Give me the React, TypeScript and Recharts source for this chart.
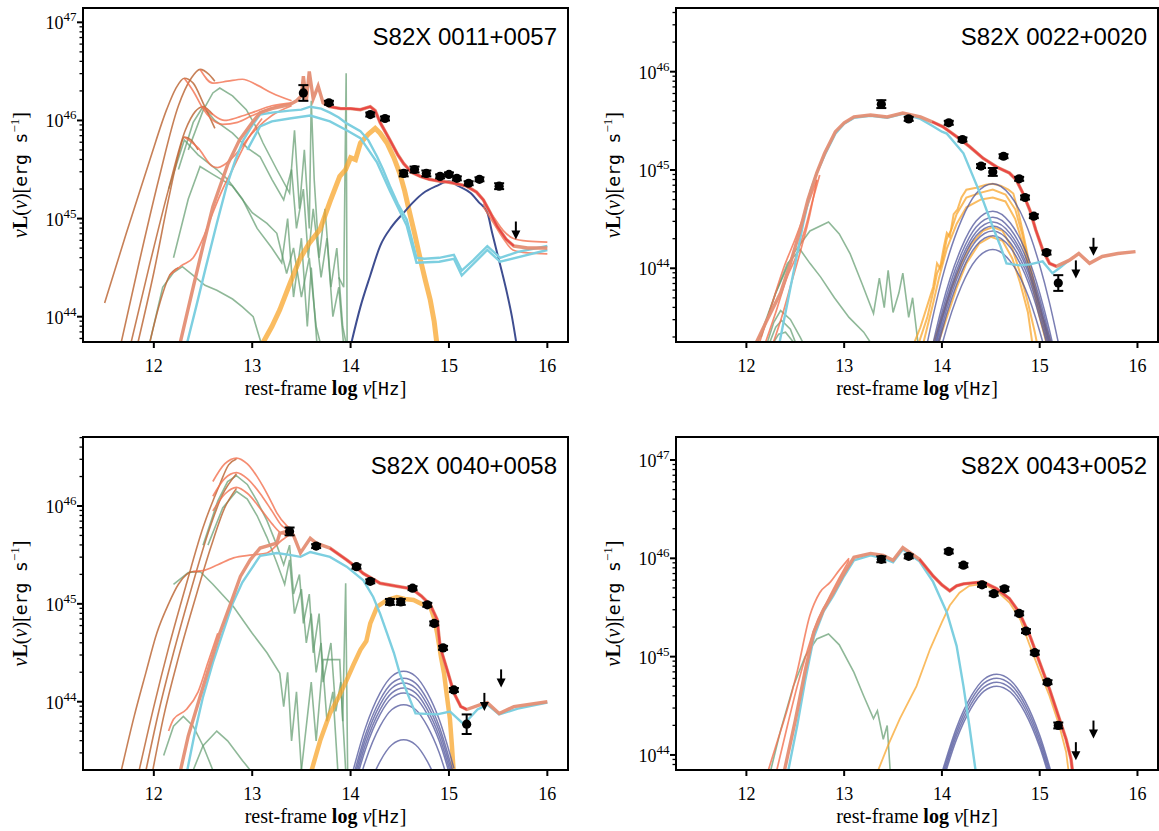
import React from "react";
import { ComposedChart, Line, Scatter, XAxis, YAxis, ErrorBar } from "recharts";

type Pt = [number, number];
type Obs = [number, number, number];

const xTicks = [12, 13, 14, 15, 16];
const xDomain: [number, number] = [11.28, 16.21];

// ---------- S82X 0011+0057 (log10 nuL) ----------
const tlColdDust: Pt[][] = [
  [[11.5, 44.14], [11.72, 44.85], [11.96, 45.6], [12.13, 46.11], [12.22, 46.32], [12.31, 46.43], [12.4, 46.38], [12.5, 46.18], [12.62, 45.92]],
  [[11.66, 43.7], [11.85, 44.55], [12.05, 45.4], [12.25, 46.15], [12.38, 46.43], [12.47, 46.52], [12.56, 46.47], [12.62, 46.4]],
  [[11.76, 43.7], [11.95, 44.5], [12.15, 45.3], [12.32, 45.9], [12.42, 46.09], [12.5, 46.14], [12.6, 46.06]],
  [[11.83, 43.7], [12.0, 44.45], [12.15, 45.2], [12.25, 45.65], [12.31, 45.83], [12.38, 45.8], [12.45, 45.7]],
  [[11.95, 43.7], [12.05, 44.1], [12.16, 44.42], [12.25, 44.5]],
];
const tlStarburst: Pt[][] = [
  [[11.95, 43.7], [12.09, 44.3], [12.2, 44.45], [12.29, 44.51], [12.4, 44.42], [12.52, 44.32], [12.64, 44.27], [12.8, 44.18], [12.9, 44.1], [13.01, 44.0], [13.1, 43.7]],
  [[12.2, 44.6], [12.35, 45.2], [12.47, 45.53], [12.6, 45.45], [12.8, 45.33], [13.0, 45.06], [13.15, 44.95], [13.25, 44.85], [13.35, 44.44], [13.42, 44.7], [13.5, 44.2], [13.58, 44.6], [13.65, 43.9], [13.7, 43.7]],
  [[12.35, 45.7], [12.5, 46.1], [12.6, 46.28], [12.67, 46.33], [12.8, 46.25], [12.94, 46.11], [13.03, 45.95], [13.11, 45.77], [13.25, 45.5], [13.38, 45.26], [13.43, 45.9], [13.48, 45.1], [13.53, 45.7], [13.58, 44.9], [13.6, 46.2], [13.63, 45.4], [13.68, 44.6], [13.74, 45.1], [13.8, 44.3], [13.86, 44.7], [13.92, 43.9], [13.96, 43.7]],
  [[12.25, 45.5], [12.4, 45.98], [12.5, 46.14], [12.62, 46.0], [12.8, 45.87], [12.95, 45.72], [13.08, 45.63], [13.2, 45.4], [13.32, 45.19], [13.4, 45.5], [13.45, 44.9], [13.52, 45.3], [13.57, 44.6], [13.62, 45.1], [13.7, 44.4], [13.76, 44.8], [13.82, 44.0], [13.88, 44.3], [13.93, 43.7]],
  [[12.15, 45.3], [12.31, 45.8], [12.45, 45.65], [12.64, 45.5], [12.75, 45.4], [12.9, 45.2], [13.05, 44.9], [13.2, 44.7], [13.3, 44.55], [13.36, 45.0], [13.42, 44.2], [13.5, 44.8], [13.56, 43.9], [13.6, 44.5], [13.66, 43.7]],
  [[13.88, 44.4], [13.93, 44.3], [13.955, 46.48], [13.965, 43.7]],
];
const tlTotals: Pt[][] = [
  [[12.47, 46.52], [12.6, 46.38], [12.75, 46.4], [12.9, 46.42], [13.05, 46.36], [13.2, 46.28], [13.4, 46.2]],
  [[12.5, 46.14], [12.6, 46.06], [12.72, 46.0], [12.85, 46.03], [13.0, 46.08], [13.2, 46.15], [13.4, 46.18]],
  [[12.31, 46.43], [12.4, 46.3], [12.5, 46.12], [12.58, 46.02], [12.7, 45.96], [12.85, 45.98], [13.0, 46.05], [13.2, 46.13], [13.4, 46.17]],
  [[12.31, 45.83], [12.45, 45.72], [12.6, 45.53], [12.65, 45.52], [12.81, 45.63], [13.0, 45.87], [13.2, 46.05], [13.4, 46.15]],
  [[12.16, 44.42], [12.28, 44.52], [12.4, 44.6], [12.5, 44.8], [12.6, 45.06], [12.7, 45.3], [12.8, 45.5], [12.95, 45.8], [13.1, 46.02]],
  [[15.35, 45.15], [15.45, 45.02], [15.55, 44.88], [15.65, 44.8], [15.8, 44.77], [16.0, 44.76]],
  [[15.35, 45.12], [15.45, 44.96], [15.55, 44.8], [15.65, 44.68], [15.8, 44.65], [16.0, 44.64]],
];
const tlBestFit: Pt[] = [
  [12.26, 43.7], [12.4, 44.3], [12.5, 44.72], [12.6, 45.12], [12.75, 45.55], [12.87, 45.8], [13.0, 45.98], [13.08, 46.08], [13.2, 46.12], [13.38, 46.16], [13.45, 46.2], [13.5, 46.25], [13.52, 46.45], [13.55, 46.2], [13.58, 46.5], [13.62, 46.22], [13.67, 46.35], [13.72, 46.18], [13.79, 46.14], [13.9, 46.12], [14.0, 46.12], [14.1, 46.11], [14.2, 46.14], [14.25, 46.1], [14.3, 45.98], [14.4, 45.8], [14.48, 45.65], [14.54, 45.56], [14.62, 45.47], [14.71, 45.43], [14.8, 45.4], [14.91, 45.38], [15.0, 45.37], [15.1, 45.35], [15.18, 45.33], [15.28, 45.27], [15.35, 45.19], [15.42, 45.06], [15.49, 44.92], [15.58, 44.79], [15.66, 44.72], [15.8, 44.7], [16.0, 44.7],
];
const tlTorus: Pt[][] = [
  [[12.33, 43.7], [12.43, 44.1], [12.53, 44.51], [12.64, 44.95], [12.74, 45.33], [12.83, 45.6], [12.91, 45.8], [13.0, 45.95], [13.08, 46.06], [13.2, 46.08], [13.38, 46.1], [13.5, 46.11], [13.59, 46.14], [13.7, 46.12], [13.79, 46.08], [13.88, 46.03], [13.96, 45.97], [14.1, 45.89], [14.18, 45.8], [14.27, 45.63], [14.33, 45.5], [14.4, 45.33], [14.48, 45.15], [14.57, 44.99], [14.62, 44.8], [14.67, 44.6], [14.75, 44.59], [14.9, 44.6], [15.05, 44.63], [15.13, 44.47], [15.25, 44.58], [15.39, 44.72], [15.52, 44.6], [15.7, 44.66], [16.0, 44.72]],
  [[12.95, 45.7], [13.08, 45.94], [13.2, 45.99], [13.38, 46.02], [13.59, 46.05], [13.79, 45.99], [13.96, 45.9], [14.1, 45.82], [14.27, 45.57], [14.4, 45.28], [14.57, 44.93], [14.67, 44.55], [14.9, 44.56], [15.05, 44.59], [15.13, 44.42], [15.39, 44.68], [15.52, 44.56], [16.0, 44.68]],
];
const tlHost: Pt[][] = [
  [[13.09, 43.7], [13.2, 43.9], [13.28, 44.07], [13.38, 44.33], [13.48, 44.58], [13.58, 44.75], [13.69, 44.89], [13.79, 45.17], [13.89, 45.43], [13.95, 45.5], [14.0, 45.62], [14.05, 45.6], [14.1, 45.77], [14.18, 45.86], [14.25, 45.92], [14.3, 45.87], [14.37, 45.77], [14.44, 45.62], [14.5, 45.46], [14.55, 45.28], [14.6, 45.06], [14.65, 44.85], [14.71, 44.58], [14.76, 44.37], [14.81, 44.17], [14.85, 43.95], [14.88, 43.7]],
];
const tlAccretion: Pt[][] = [
  [[14.0, 43.7], [14.1, 44.1], [14.2, 44.42], [14.3, 44.72], [14.42, 44.92], [14.54, 45.06], [14.64, 45.17], [14.74, 45.26], [14.87, 45.33], [15.0, 45.38], [15.1, 45.33], [15.22, 45.26], [15.3, 45.17], [15.39, 45.06], [15.44, 44.85], [15.49, 44.65], [15.54, 44.45], [15.59, 44.24], [15.64, 44.0], [15.69, 43.7]],
];
const tlObs: Obs[] = [
  [13.52, 46.28, 0.08], [13.78, 46.18, 0.02], [14.2, 46.06, 0.02], [14.35, 46.02, 0.02], [14.54, 45.46, 0.03], [14.65, 45.5, 0.03], [14.77, 45.46, 0.03], [14.91, 45.43, 0.02], [15.0, 45.45, 0.02], [15.08, 45.41, 0.02], [15.2, 45.36, 0.02], [15.31, 45.4, 0.02], [15.51, 45.33, 0.03],
];
const tlLimits: Pt[] = [[15.68, 44.97]];

// ---------- S82X 0022+0020 ----------
const trStarburst: Pt[][] = [
  [[12.1, 43.2], [12.3, 43.75], [12.48, 44.15], [12.65, 44.38], [12.84, 44.47], [12.95, 44.35], [13.06, 44.15], [13.18, 43.85], [13.3, 43.54], [13.36, 43.9], [13.41, 43.6], [13.45, 43.98], [13.5, 43.55], [13.56, 43.75], [13.6, 43.95], [13.66, 43.5], [13.7, 43.7], [13.76, 43.2]],
  [[12.15, 43.3], [12.3, 43.75], [12.42, 44.05], [12.55, 44.19], [12.65, 44.05], [12.76, 43.91], [12.9, 43.7], [13.05, 43.5], [13.2, 43.35], [13.3, 43.2]],
  [[12.2, 43.2], [12.28, 43.45], [12.35, 43.57], [12.45, 43.48], [12.55, 43.3], [12.6, 43.2]],
  [[12.22, 43.2], [12.3, 43.4], [12.36, 43.47], [12.45, 43.38], [12.52, 43.2]],
  [[12.25, 43.2], [12.33, 43.33], [12.4, 43.35], [12.48, 43.25], [12.52, 43.2]],
];
const trTotals: Pt[][] = [
  [[12.12, 43.2], [12.25, 43.6], [12.38, 44.0], [12.5, 44.3], [12.62, 44.62], [12.72, 44.9]],
  [[12.18, 43.2], [12.3, 43.55], [12.42, 43.92], [12.5, 44.1], [12.6, 44.4], [12.68, 44.7], [12.75, 44.95]],
  [[12.26, 43.2], [12.36, 43.5], [12.46, 43.85], [12.56, 44.2], [12.65, 44.55], [12.72, 44.9]],
];
const trBestFit: Pt[] = [
  [12.08, 43.2], [12.2, 43.45], [12.35, 43.75], [12.45, 44.05], [12.55, 44.39], [12.63, 44.7], [12.72, 44.97], [12.8, 45.17], [12.91, 45.39], [13.0, 45.48], [13.1, 45.54], [13.27, 45.56], [13.44, 45.54], [13.6, 45.58], [13.78, 45.54], [13.9, 45.49], [14.01, 45.44], [14.15, 45.34], [14.28, 45.24], [14.42, 45.12], [14.56, 45.03], [14.69, 44.97], [14.76, 44.9], [14.83, 44.76], [14.9, 44.59], [14.96, 44.39], [15.03, 44.19], [15.1, 44.05], [15.17, 44.02], [15.3, 44.08], [15.4, 44.15], [15.51, 44.05], [15.64, 44.12], [15.8, 44.15], [15.98, 44.17],
];
const trTorus: Pt[][] = [
  [[12.33, 43.2], [12.42, 43.65], [12.5, 44.05], [12.58, 44.45], [12.66, 44.8], [12.72, 44.97], [12.8, 45.15], [12.91, 45.37], [13.0, 45.47], [13.1, 45.53], [13.27, 45.55], [13.44, 45.53], [13.6, 45.57], [13.78, 45.52], [13.9, 45.45], [14.0, 45.39], [14.05, 45.37], [14.11, 45.3], [14.22, 45.17], [14.32, 44.93], [14.42, 44.69], [14.52, 44.42], [14.6, 44.22], [14.66, 44.05], [14.79, 44.03], [14.9, 44.04], [15.03, 44.07], [15.13, 43.95], [15.2, 44.0], [15.3, 44.08]],
];
const trHost: Pt[][] = [
  [[13.7, 43.2], [13.78, 43.4], [13.85, 43.62], [13.91, 43.81], [13.95, 44.05], [13.98, 44.0], [14.02, 44.22], [14.05, 44.36], [14.08, 44.32], [14.12, 44.55], [14.16, 44.6], [14.2, 44.72], [14.25, 44.8], [14.35, 44.82], [14.45, 44.85], [14.52, 44.86], [14.6, 44.84], [14.68, 44.8], [14.73, 44.76], [14.78, 44.58], [14.83, 44.36], [14.88, 44.12], [14.93, 43.91], [14.98, 43.7], [15.03, 43.5], [15.08, 43.35], [15.13, 43.2]],
  [[13.75, 43.2], [13.85, 43.5], [13.92, 43.8], [13.95, 43.95], [14.0, 44.05], [14.05, 44.3], [14.1, 44.4], [14.15, 44.55], [14.25, 44.72], [14.4, 44.77], [14.52, 44.8], [14.65, 44.75], [14.75, 44.6], [14.82, 44.35], [14.9, 44.0], [14.98, 43.65], [15.05, 43.4], [15.1, 43.2]],
  [[13.8, 43.2], [13.9, 43.6], [13.97, 43.9], [14.05, 44.2], [14.15, 44.45], [14.25, 44.62], [14.4, 44.7], [14.52, 44.72], [14.65, 44.68], [14.75, 44.5], [14.84, 44.2], [14.92, 43.85], [15.0, 43.5], [15.08, 43.2]],
  [[13.9, 43.2], [14.0, 43.5], [14.1, 43.8], [14.2, 44.05], [14.3, 44.25], [14.42, 44.38], [14.52, 44.42], [14.62, 44.38], [14.72, 44.2], [14.8, 43.95], [14.88, 43.65], [14.95, 43.35], [14.98, 43.2]],
  [[13.95, 43.2], [14.05, 43.5], [14.15, 43.8], [14.25, 44.05], [14.38, 44.25], [14.5, 44.32], [14.62, 44.28], [14.72, 44.1], [14.8, 43.85], [14.88, 43.55], [14.93, 43.2]],
];
const trBbbX = [13.7, 13.85, 14.0, 14.2, 14.35, 14.52, 14.7, 14.85, 15.0, 15.1, 15.2];
const trBbbY: number[][] = [
  [42.44, 43.24, 43.89, 44.49, 44.76, 44.86, 44.74, 44.47, 44.03, 43.65, 43.2],
  [42.16, 42.96, 43.61, 44.21, 44.48, 44.58, 44.46, 44.19, 43.75, 43.37, 42.92],
  [42.1, 42.9, 43.55, 44.15, 44.42, 44.52, 44.4, 44.13, 43.69, 43.31, 42.86],
  [42.05, 42.85, 43.5, 44.1, 44.37, 44.47, 44.35, 44.08, 43.64, 43.26, 42.81],
  [42.01, 42.81, 43.46, 44.06, 44.33, 44.43, 44.31, 44.04, 43.6, 43.22, 42.77],
  [41.96, 42.76, 43.41, 44.01, 44.28, 44.38, 44.26, 43.99, 43.55, 43.17, 42.72],
  [41.91, 42.71, 43.36, 43.96, 44.23, 44.33, 44.21, 43.94, 43.5, 43.12, 42.67],
  [41.77, 42.57, 43.22, 43.82, 44.09, 44.19, 44.07, 43.8, 43.36, 42.98, 42.53],
];
const trObs: Obs[] = [
  [13.38, 45.67, 0.04], [13.66, 45.52, 0.02], [14.07, 45.48, 0.02], [14.21, 45.31, 0.02], [14.4, 45.04, 0.02], [14.52, 44.98, 0.04], [14.63, 45.14, 0.02], [14.79, 44.91, 0.02], [14.85, 44.72, 0.02], [14.94, 44.53, 0.02], [15.07, 44.16, 0.02], [15.19, 43.85, 0.08],
];
const trLimits: Pt[] = [[15.37, 44.08], [15.55, 44.31]];

// ---------- S82X 0040+0058 ----------
const blColdDust: Pt[][] = [
  [[11.67, 43.3], [11.8, 43.85], [11.92, 44.3], [12.03, 44.7], [12.15, 45.0], [12.25, 45.2], [12.4, 45.33], [12.47, 45.33]],
  [[11.84, 43.25], [12.0, 43.95], [12.15, 44.55], [12.33, 45.2], [12.5, 45.78], [12.67, 46.22], [12.76, 46.42], [12.84, 46.48]],
  [[11.91, 43.25], [12.05, 43.9], [12.2, 44.5], [12.38, 45.15], [12.55, 45.72], [12.7, 46.12], [12.84, 46.33]],
  [[11.98, 43.25], [12.1, 43.85], [12.25, 44.45], [12.42, 45.05], [12.58, 45.58], [12.72, 45.98], [12.84, 46.18]],
];
const blStarburst: Pt[][] = [
  [[12.5, 45.6], [12.65, 46.05], [12.75, 46.25], [12.84, 46.31], [12.95, 46.22], [13.05, 46.05], [13.15, 45.85], [13.25, 45.6], [13.32, 45.4], [13.38, 45.6], [13.42, 45.1], [13.48, 45.3], [13.52, 44.8], [13.58, 45.1], [13.62, 44.5], [13.68, 44.9], [13.72, 44.2], [13.8, 44.6], [13.85, 43.9], [13.9, 44.2], [13.95, 43.3]],
  [[12.55, 45.6], [12.7, 45.98], [12.84, 46.15], [12.95, 46.07], [13.05, 45.9], [13.15, 45.68], [13.25, 45.42], [13.33, 45.2], [13.38, 45.45], [13.43, 44.9], [13.5, 45.15], [13.55, 44.6], [13.6, 44.9], [13.65, 44.3], [13.7, 44.6], [13.76, 43.8], [13.82, 44.1], [13.87, 43.3]],
  [[12.2, 45.2], [12.35, 45.32], [12.47, 45.33], [12.6, 45.2], [12.81, 44.97], [13.0, 44.7], [13.15, 44.5], [13.28, 44.29], [13.32, 43.95], [13.36, 44.3], [13.4, 43.6], [13.45, 44.1], [13.5, 43.3]],
  [[12.1, 43.45], [12.2, 43.75], [12.3, 43.85], [12.4, 43.75], [12.5, 43.55], [12.6, 43.3]],
  [[12.4, 43.3], [12.5, 43.55], [12.64, 43.7], [12.75, 43.6], [12.9, 43.4], [12.98, 43.3]],
  [[13.5, 43.3], [13.6, 44.2], [13.65, 43.6], [13.72, 44.43], [13.89, 44.43], [13.92, 43.8], [13.95, 45.21], [13.97, 43.3]],
];
const blTotals: Pt[][] = [
  [[12.6, 46.25], [12.72, 46.43], [12.84, 46.49], [12.95, 46.43], [13.05, 46.3], [13.11, 46.2], [13.2, 46.03], [13.25, 45.93], [13.35, 45.8], [13.42, 45.74]],
  [[12.6, 46.1], [12.72, 46.28], [12.84, 46.34], [12.95, 46.28], [13.1, 46.1], [13.2, 45.95], [13.3, 45.8], [13.4, 45.75]],
  [[12.6, 45.95], [12.72, 46.12], [12.84, 46.19], [12.95, 46.13], [13.1, 45.95], [13.2, 45.82], [13.3, 45.72], [13.4, 45.7]],
  [[12.4, 45.33], [12.5, 45.34], [12.65, 45.4], [12.81, 45.47], [13.0, 45.5], [13.15, 45.52], [13.3, 45.65], [13.4, 45.72]],
  [[12.15, 43.7], [12.2, 43.82], [12.33, 43.92], [12.45, 44.1], [12.55, 44.4], [12.65, 44.7]],
];
const blBestFit: Pt[] = [
  [12.26, 43.25], [12.35, 43.65], [12.47, 44.05], [12.57, 44.38], [12.67, 44.7], [12.78, 45.0], [12.88, 45.28], [12.98, 45.45], [13.08, 45.57], [13.25, 45.62], [13.28, 45.72], [13.38, 45.75], [13.42, 45.7], [13.49, 45.52], [13.59, 45.67], [13.65, 45.62], [13.79, 45.57], [13.96, 45.45], [14.05, 45.38], [14.13, 45.31], [14.3, 45.21], [14.47, 45.18], [14.58, 45.16], [14.64, 45.14], [14.72, 45.08], [14.81, 44.99], [14.88, 44.84], [14.91, 44.56], [14.98, 44.33], [15.05, 44.09], [15.12, 43.95], [15.18, 43.92], [15.32, 43.97], [15.39, 43.99], [15.51, 43.88], [15.66, 43.95], [16.0, 44.0],
];
const blTorus: Pt[][] = [
  [[12.33, 43.25], [12.42, 43.7], [12.5, 44.05], [12.6, 44.4], [12.7, 44.7], [12.8, 45.0], [12.9, 45.22], [13.0, 45.37], [13.08, 45.49], [13.25, 45.52], [13.38, 45.5], [13.49, 45.48], [13.59, 45.53], [13.79, 45.48], [13.96, 45.38], [14.13, 45.24], [14.23, 45.07], [14.3, 44.9], [14.37, 44.7], [14.44, 44.5], [14.5, 44.29], [14.58, 44.08], [14.66, 43.88], [14.88, 43.87], [15.01, 43.9], [15.15, 43.77], [15.29, 43.92], [15.39, 43.97], [15.51, 43.87], [15.7, 43.93], [16.0, 43.99]],
];
const blHost: Pt[][] = [
  [[13.59, 43.25], [13.69, 43.6], [13.79, 43.88], [13.88, 44.05], [13.96, 44.22], [14.03, 44.38], [14.1, 44.53], [14.16, 44.62], [14.2, 44.8], [14.27, 44.97], [14.37, 45.04], [14.47, 45.07], [14.55, 45.05], [14.64, 45.04], [14.72, 45.0], [14.81, 44.97], [14.85, 44.85], [14.88, 44.7], [14.92, 44.45], [14.95, 44.29], [14.98, 44.05], [15.01, 43.82], [15.03, 43.55], [15.05, 43.25]],
];
const blBbbX = [14.0, 14.15, 14.3, 14.42, 14.54, 14.66, 14.78, 14.9, 15.05];
const blBbbY: number[][] = [
  [43.2, 43.73, 44.09, 44.26, 44.31, 44.26, 44.09, 43.82, 43.32],
  [43.13, 43.66, 44.02, 44.19, 44.24, 44.19, 44.02, 43.75, 43.25],
  [43.08, 43.61, 43.97, 44.14, 44.19, 44.14, 43.97, 43.7, 43.2],
  [43.03, 43.56, 43.92, 44.09, 44.14, 44.09, 43.92, 43.65, 43.15],
  [42.98, 43.51, 43.87, 44.04, 44.09, 44.04, 43.87, 43.6, 43.1],
  [42.86, 43.39, 43.75, 43.92, 43.97, 43.92, 43.75, 43.48, 42.98],
  [42.5, 43.03, 43.39, 43.56, 43.61, 43.56, 43.39, 43.12, 42.62],
];
const blObs: Obs[] = [
  [13.38, 45.74, 0.04], [13.65, 45.59, 0.02], [14.06, 45.38, 0.02], [14.2, 45.23, 0.02], [14.4, 45.02, 0.03], [14.51, 45.02, 0.03], [14.63, 45.16, 0.02], [14.78, 44.99, 0.02], [14.85, 44.8, 0.02], [14.94, 44.55, 0.02], [15.05, 44.12, 0.02], [15.18, 43.77, 0.1],
];
const blLimits: Pt[] = [[15.36, 44.09], [15.53, 44.33]];

// ---------- S82X 0043+0052 ----------
const brStarburst: Pt[][] = [
  [[12.25, 43.85], [12.35, 44.25], [12.48, 44.7], [12.6, 45.0], [12.72, 45.18], [12.84, 45.23], [12.95, 45.12], [13.1, 44.84], [13.2, 44.6], [13.3, 44.37], [13.34, 44.45], [13.4, 44.16], [13.44, 44.3], [13.47, 43.85]],
];
const brTotals: Pt[][] = [
  [[12.21, 43.8], [12.32, 44.15], [12.42, 44.47], [12.52, 44.85], [12.65, 45.42], [12.75, 45.65], [12.86, 45.76], [12.95, 45.88], [13.05, 46.0]],
  [[12.3, 43.8], [12.42, 44.3], [12.52, 44.7], [12.62, 45.05], [12.72, 45.35], [12.82, 45.55], [12.95, 45.8], [13.05, 45.98]],
];
const brBestFit: Pt[] = [
  [12.38, 43.8], [12.5, 44.35], [12.6, 44.85], [12.69, 45.25], [12.79, 45.48], [12.89, 45.65], [13.0, 45.85], [13.1, 46.01], [13.27, 46.05], [13.4, 46.03], [13.5, 45.98], [13.6, 46.11], [13.77, 45.99], [13.91, 45.82], [14.0, 45.73], [14.08, 45.67], [14.15, 45.72], [14.22, 45.74], [14.32, 45.75], [14.42, 45.76], [14.56, 45.69], [14.69, 45.59], [14.79, 45.45], [14.9, 45.21], [15.0, 44.94], [15.1, 44.67], [15.2, 44.37], [15.27, 44.16], [15.32, 43.96], [15.34, 43.8],
];
const brTorus: Pt[][] = [
  [[12.42, 43.8], [12.52, 44.3], [12.6, 44.75], [12.69, 45.2], [12.79, 45.46], [12.89, 45.62], [13.0, 45.82], [13.1, 45.98], [13.27, 46.03], [13.4, 46.0], [13.5, 45.96], [13.6, 46.09], [13.77, 45.97], [13.91, 45.76], [14.05, 45.45], [14.15, 45.11], [14.22, 44.7], [14.28, 44.3], [14.35, 43.8]],
];
const brHost: Pt[][] = [
  [[13.33, 43.8], [13.45, 44.1], [13.57, 44.37], [13.74, 44.7], [13.88, 45.08], [14.0, 45.35], [14.08, 45.52], [14.18, 45.65], [14.28, 45.72], [14.42, 45.74], [14.56, 45.67], [14.69, 45.55], [14.8, 45.38], [14.9, 45.11], [15.0, 44.85], [15.1, 44.6], [15.2, 44.3], [15.27, 44.03], [15.3, 43.8]],
];
const brBbbX = [14.0, 14.15, 14.3, 14.43, 14.56, 14.7, 14.85, 15.0, 15.15];
const brBbbY: number[][] = [
  [43.82, 44.28, 44.6, 44.77, 44.82, 44.76, 44.55, 44.2, 43.71],
  [43.78, 44.24, 44.56, 44.73, 44.78, 44.72, 44.51, 44.16, 43.67],
  [43.74, 44.2, 44.52, 44.69, 44.74, 44.68, 44.47, 44.12, 43.63],
  [43.7, 44.16, 44.48, 44.65, 44.7, 44.64, 44.43, 44.08, 43.59],
];
const brObs: Obs[] = [
  [13.38, 45.99, 0.03], [13.66, 46.02, 0.02], [14.07, 46.07, 0.02], [14.22, 45.93, 0.02], [14.41, 45.73, 0.02], [14.53, 45.64, 0.02], [14.64, 45.69, 0.02], [14.79, 45.44, 0.02], [14.86, 45.26, 0.02], [14.95, 45.04, 0.02], [15.08, 44.74, 0.02], [15.19, 44.3, 0.03],
];
const brLimits: Pt[] = [[15.37, 44.13], [15.55, 44.35]];

const zipX = (xs: number[], rows: number[][]): Pt[][] =>
  rows.map((ys) => ys.map((y, i) => [xs[i], y] as Pt));

const SERIF = "'Liberation Serif', 'Times New Roman', serif";
const MONO = "'DejaVu Sans Mono', 'Liberation Mono', monospace";
const SANS = "'Liberation Sans', Arial, sans-serif";

type Style = { stroke: string; width: number; opacity: number; type: "linear" | "monotone" };
const styles: Record<string, Style> = {
  starburst: { stroke: "#5f9a6c", width: 1.6, opacity: 0.7, type: "linear" },
  coldDust: { stroke: "#bd6a3a", width: 1.6, opacity: 0.85, type: "monotone" },
  host: { stroke: "#f8a52c", width: 3.2, opacity: 0.75, type: "linear" },
  bbbDark: { stroke: "#34438a", width: 2, opacity: 0.95, type: "monotone" },
  bbb: { stroke: "#4d5399", width: 1.5, opacity: 0.75, type: "monotone" },
  torus: { stroke: "#7dcfe0", width: 2.4, opacity: 1, type: "linear" },
  totals: { stroke: "#f2704f", width: 1.7, opacity: 0.8, type: "monotone" },
  best: { stroke: "#e48e74", width: 3.4, opacity: 0.95, type: "linear" },
  red: { stroke: "#ea3b3b", width: 2.2, opacity: 0.85, type: "linear" },
};

type Panel = {
  key: string;
  title: string;
  left: number;
  top: number;
  width: number;
  height: number;
  plot: { l: number; t: number; r: number; b: number };
  yDomain: [number, number];
  coldDust: Pt[][];
  starburst: Pt[][];
  totals: Pt[][];
  best: Pt[];
  red: [number, number];
  torus: Pt[][];
  host: Pt[][];
  hostWidth: number;
  bbb: Pt[][];
  bbbStyle: string;
  obs: Obs[];
  limits: Pt[];
};

const panels: Panel[] = [
  {
    key: "tl", title: "S82X 0011+0057", left: 0, top: 0, width: 580, height: 420,
    plot: { l: 83, t: 8, r: 568, b: 342 }, yDomain: [43.742, 47.146],
    coldDust: tlColdDust, starburst: tlStarburst, totals: tlTotals, best: tlBestFit, red: [13.75, 15.7],
    torus: tlTorus, host: tlHost, hostWidth: 5, bbb: tlAccretion, bbbStyle: "bbbDark", obs: tlObs, limits: tlLimits,
  },
  {
    key: "tr", title: "S82X 0022+0020", left: 590, top: 0, width: 569, height: 420,
    plot: { l: 86, t: 8, r: 568, b: 342 }, yDomain: [43.25, 46.648],
    coldDust: [], starburst: trStarburst, totals: trTotals, best: trBestFit, red: [13.9, 15.2],
    torus: trTorus, host: trHost, hostWidth: 2, bbb: zipX(trBbbX, trBbbY), bbbStyle: "bbb", obs: trObs, limits: trLimits,
  },
  {
    key: "bl", title: "S82X 0040+0058", left: 0, top: 420, width: 580, height: 411,
    plot: { l: 83, t: 17, r: 568, b: 350 }, yDomain: [43.302, 46.705],
    coldDust: blColdDust, starburst: blStarburst, totals: blTotals, best: blBestFit, red: [13.75, 15.3],
    torus: blTorus, host: blHost, hostWidth: 4.5, bbb: zipX(blBbbX, blBbbY), bbbStyle: "bbb", obs: blObs, limits: blLimits,
  },
  {
    key: "br", title: "S82X 0043+0052", left: 590, top: 420, width: 569, height: 411,
    plot: { l: 86, t: 17, r: 568, b: 350 }, yDomain: [43.847, 47.234],
    coldDust: [], starburst: brStarburst, totals: brTotals, best: brBestFit, red: [13.75, 15.34],
    torus: brTorus, host: brHost, hostWidth: 1.8, bbb: zipX(brBbbX, brBbbY), bbbStyle: "bbb", obs: brObs, limits: brLimits,
  },
];

function logTicks([lo, hi]: [number, number]) {
  const out: number[] = [];
  for (let n = Math.floor(lo); n <= Math.ceil(hi); n++) {
    for (let k = 1; k <= 9; k++) {
      const v = n + Math.log10(k);
      if (v >= lo && v <= hi) out.push(v);
    }
  }
  return out;
}

function curve(pts: Pt[], id: string, s: Style) {
  return (
    <Line
      key={id}
      data={pts.map(([x, y]) => ({ x, y }))}
      dataKey="y"
      type={s.type}
      stroke={s.stroke}
      strokeWidth={s.width}
      strokeOpacity={s.opacity}
      dot={false}
      activeDot={false}
      isAnimationActive={false}
    />
  );
}

const Dot = (props: any) => <circle cx={props.cx} cy={props.cy} r={4.6} fill="#000" />;

const Arrow = (props: any) => {
  const { cx, cy } = props;
  return (
    <g>
      <line x1={cx} x2={cx} y1={cy} y2={cy + 11} stroke="#000" strokeWidth={2} />
      <polygon points={`${cx - 4.5},${cy + 9} ${cx + 4.5},${cy + 9} ${cx},${cy + 18}`} fill="#000" />
    </g>
  );
};

function SedPanel({ p }: { p: Panel }) {
  const { l, t, r, b } = p.plot;
  const yTicks = logTicks(p.yDomain);

  const xTick = (props: any) => {
    const { x, payload } = props;
    return (
      <g>
        <line x1={x} x2={x} y1={b} y2={b + 6} stroke="#000" strokeWidth={2} />
        <text x={x} y={b + 30} textAnchor="middle" fontFamily={SERIF} fontSize={18} fill="#000">
          {payload.value}
        </text>
      </g>
    );
  };

  const yTick = (props: any) => {
    const { y, payload } = props;
    const v = payload.value as number;
    const major = Math.abs(v - Math.round(v)) < 1e-6;
    return (
      <g>
        <line x1={l - (major ? 6 : 3.5)} x2={l} y1={y} y2={y} stroke="#000" strokeWidth={major ? 2 : 1.3} />
        {major && (
          <text x={l - 6.5} y={y + 7} textAnchor="end" fontFamily={SERIF} fontSize={18} fill="#000">
            <tspan>10</tspan>
            <tspan dy={-8} fontSize={13}>{Math.round(v)}</tspan>
          </text>
        )}
      </g>
    );
  };

  const redPts = p.best.filter(([x]) => x >= p.red[0] && x <= p.red[1]);
  const hostStyle = { ...styles.host, width: p.hostWidth };

  return (
    <div style={{ position: "absolute", left: p.left, top: p.top, width: p.width, height: p.height }}>
      <ComposedChart
        width={p.width}
        height={p.height}
        margin={{ top: t, right: p.width - r, bottom: 0, left: 0 }}
      >
        <XAxis
          type="number"
          dataKey="x"
          domain={xDomain}
          ticks={xTicks}
          interval={0}
          allowDataOverflow
          height={p.height - b}
          axisLine={false}
          tickLine={false}
          tick={xTick}
        />
        <YAxis
          type="number"
          domain={p.yDomain}
          ticks={yTicks}
          interval={0}
          allowDataOverflow
          width={l}
          axisLine={false}
          tickLine={false}
          tick={yTick}
        />
        {p.starburst.map((c, i) => curve(c, `sb${i}`, styles.starburst))}
        {p.coldDust.map((c, i) => curve(c, `cd${i}`, styles.coldDust))}
        {p.host.map((c, i) => curve(c, `h${i}`, hostStyle))}
        {p.bbb.map((c, i) => curve(c, `bbb${i}`, styles[p.bbbStyle]))}
        {p.totals.map((c, i) => curve(c, `tot${i}`, styles.totals))}
        {p.torus.map((c, i) => curve(c, `to${i}`, styles.torus))}
        {curve(p.best, "best", styles.best)}
        {curve(redPts, "red", styles.red)}
        <Scatter
          data={p.obs.map(([x, y, e]) => ({ x, y, e }))}
          dataKey="y"
          shape={Dot}
          isAnimationActive={false}
        >
          <ErrorBar dataKey="e" direction="y" width={5} strokeWidth={2} stroke="#000" />
        </Scatter>
        <Scatter
          data={p.limits.map(([x, y]) => ({ x, y }))}
          dataKey="y"
          shape={Arrow}
          isAnimationActive={false}
        />
      </ComposedChart>
      <svg
        width={p.width}
        height={p.height}
        style={{ position: "absolute", left: 0, top: 0, pointerEvents: "none" }}
      >
        <rect x={l} y={t} width={r - l} height={b - t} fill="none" stroke="#000" strokeWidth={2} />
        <text x={r - 11} y={t + 37} textAnchor="end" fontFamily={SANS} fontSize={24} fill="#000">
          {p.title}
        </text>
        <text x={(l + r) / 2} y={b + 53} textAnchor="middle" fontFamily={SERIF} fontSize={20} fill="#000">
          {"rest-frame "}
          <tspan fontWeight="bold">log</tspan>
          {" "}
          <tspan fontStyle="italic">ν</tspan>
          {"["}
          <tspan fontFamily={MONO} fontSize={18}>Hz</tspan>
          {"]"}
        </text>
        <text
          transform={`translate(${l - 56},${(t + b) / 2}) rotate(-90)`}
          textAnchor="middle"
          fontFamily={SERIF}
          fontSize={20}
          fill="#000"
        >
          <tspan fontStyle="italic">ν</tspan>
          <tspan fontWeight="bold">L</tspan>
          {"("}
          <tspan fontStyle="italic">ν</tspan>
          {")["}
          <tspan fontFamily={MONO} fontSize={18}>erg s</tspan>
          <tspan dy={-8} fontSize={13}>−1</tspan>
          <tspan dy={8}>]</tspan>
        </text>
      </svg>
    </div>
  );
}

export default function App() {
  return (
    <div
      style={{
        position: "absolute",
        left: 0,
        top: 0,
        width: 1159,
        height: 831,
        background: "#fff",
      }}
    >
      {panels.map((p) => (
        <SedPanel key={p.key} p={p} />
      ))}
    </div>
  );
}
